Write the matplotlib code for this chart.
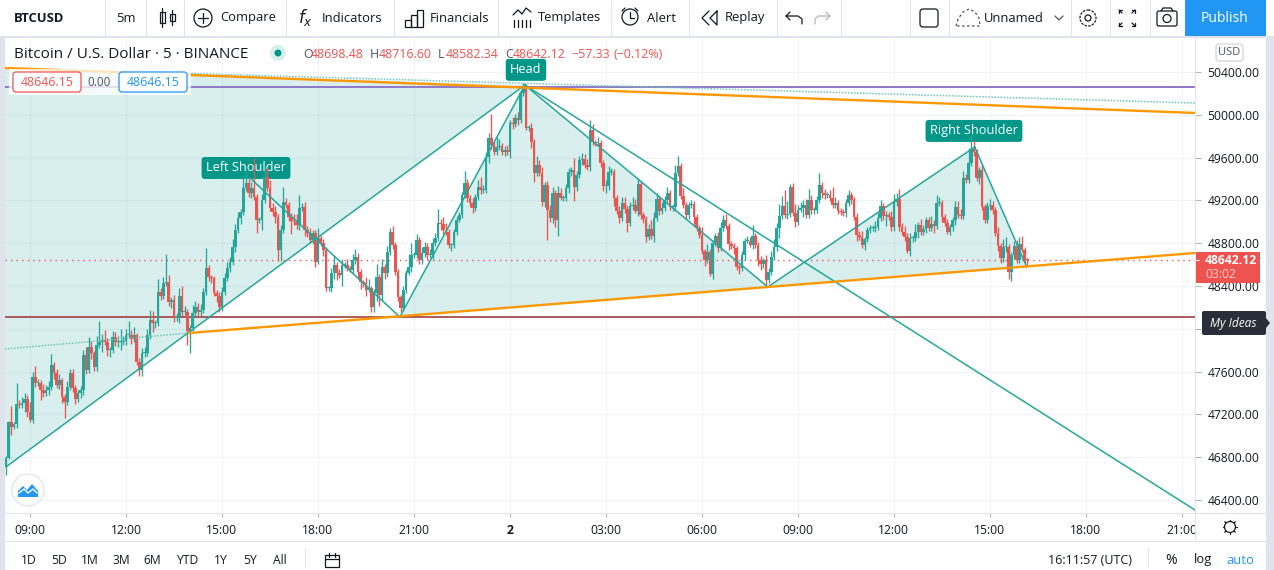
import matplotlib
matplotlib.use("Agg")
import matplotlib.pyplot as plt
from matplotlib.patches import Rectangle, Circle, FancyBboxPatch, Polygon

plt.rcParams["font.family"] = ["Open Sans", "DejaVu Sans"]

# 5 minute closes, one row per hour, first bar 08:15
closes = [
    46793, 47129, 47082, 47110, 47297, 47288, 47306, 47344, 47222, 47148, 47550, 47493,
    47493, 47428, 47400, 47428, 47456, 47662, 47587, 47475, 47521, 47363, 47316, 47456,
    47587, 47447, 47344, 47400, 47428, 47755, 47615, 47830, 47774, 47643, 47849, 47877,
    47895, 47877, 47802, 47802, 47923, 47877, 47877, 47877, 47886, 47942, 47942, 47905,
    47942, 47690, 47615, 47774, 47774, 47942, 48082, 48054, 48054, 48344, 48307, 48428,
    48437, 48251, 48269, 48101, 48120, 48307, 48157, 48157, 47979, 48007, 48148, 48204,
    48157, 48176, 48344, 48568, 48484, 48475, 48334, 48307, 48204, 48344, 48475, 48568,
    48624, 48765, 48923, 49036, 49092, 49316, 49363, 49269, 49316, 49232, 49017, 49017,
    49204, 49419, 49316, 49129, 49092, 49045, 48737, 48923, 49185, 49157, 49045, 49008,
    48998, 48970, 49129, 49138, 48923, 48895, 48830, 48895, 48624, 48849, 48802, 48737,
    48381, 48381, 48522, 48596, 48522, 48503, 48596, 48596, 48568, 48550, 48643, 48671,
    48531, 48437, 48428, 48363, 48381, 48204, 48334, 48484, 48316, 48578, 48522, 48718,
    48905, 48783, 48531, 48297, 48195, 48363, 48522, 48578, 48690, 48690, 48830, 48643,
    48708, 48765, 48690, 48690, 48802, 48849, 48989, 48980, 48923, 48905, 48783, 48783,
    48905, 49017, 49064, 49250, 49363, 49222, 49176, 49129, 49232, 49325, 49297, 49297,
    49606, 49783, 49718, 49652, 49699, 49709, 49652, 49671, 49652, 49923, 49914, 49970,
    49951, 50204, 50260, 49877, 49877, 49746, 49456, 49531, 49456, 49185, 49344, 49110,
    49036, 49269, 49017, 49269, 49222, 49222, 49316, 49465, 49484, 49325, 49437, 49578,
    49587, 49531, 49512, 49858, 49746, 49736, 49736, 49550, 49335, 49335, 49465, 49465,
    49222, 49101, 49036, 49176, 49120, 48989, 49148, 49157, 49101, 49353, 49064, 49026,
    48858, 48933, 48867, 49036, 49213, 49101, 49129, 49204, 49269, 49138, 49138, 49456,
    49522, 49241, 49157, 49064, 49157, 49166, 49045, 48942, 48877, 48727, 48643, 48718,
    48512, 48802, 48867, 48755, 48942, 49017, 48961, 48793, 48774, 48755, 48578, 48568,
    48690, 48821, 48821, 48783, 48867, 48783, 48643, 48606, 48643, 48456, 48531, 48671,
    48765, 48942, 49054, 49148, 49064, 49073, 49325, 49082, 48998, 49110, 49129, 49157,
    49064, 49204, 49110, 49110, 49204, 49344, 49269, 49250, 49250, 49222, 49157, 49176,
    49101, 49092, 49082, 49176, 49250, 49204, 49045, 48877, 48858, 48783, 48839, 48923,
    48942, 48942, 48951, 49036, 49148, 49054, 49064, 49045, 48951, 49185, 49213, 48951,
    48905, 48858, 48727, 48849, 48849, 48905, 48970, 48905, 48933, 49017, 48942, 48980,
    48961, 49176, 49176, 49045, 48989, 48905, 48951, 49017, 49138, 49064, 49054, 49409,
    49391, 49550, 49680, 49652, 49409, 49484, 49138, 49017, 49148, 49157, 49110, 48895,
    48774, 48662, 48765, 48765, 48531, 48690, 48774, 48643, 48793, 48737, 48643, 48642.12,
]
first_open = 46710

# wick lengths above and below the candle body, dollars
upper_wicks = [
    20, 10, 150, 20, 200, 40, 60, 60, 40, 90, 50, 100,
    40, 30, 60, 50, 60, 100, 30, 40, 60, 20, 30, 60,
    40, 40, 30, 30, 40, 50, 70, 90, 60, 20, 80, 200,
    60, 90, 40, 30, 60, 50, 60, 120, 50, 60, 130, 50,
    70, 20, 40, 50, 60, 60, 90, 80, 30, 120, 40, 60,
    260, 70, 30, 50, 30, 70, 90, 60, 30, 30, 70, 60,
    40, 60, 40, 190, 30, 20, 20, 30, 40, 50, 50, 60,
    50, 70, 60, 60, 30, 120, 130, 40, 60, 280, 30, 30,
    60, 100, 80, 70, 50, 60, 30, 50, 140, 40, 30, 40,
    60, 70, 120, 40, 50, 40, 50, 30, 30, 90, 30, 40,
    30, 20, 50, 80, 30, 40, 60, 30, 60, 20, 60, 70,
    40, 30, 20, 60, 80, 20, 40, 120, 30, 70, 30, 60,
    40, 60, 30, 30, 20, 40, 30, 120, 110, 30, 60, 30,
    60, 50, 40, 60, 50, 50, 130, 40, 60, 70, 30, 20,
    30, 40, 30, 30, 110, 40, 30, 50, 30, 70, 90, 50,
    50, 50, 220, 30, 90, 60, 30, 40, 50, 30, 60, 40,
    60, 30, 40, 30, 30, 50, 30, 80, 50, 60, 30, 40,
    50, 60, 30, 70, 50, 30, 40, 40, 30, 110, 40, 40,
    60, 50, 60, 90, 60, 20, 60, 30, 30, 60, 60, 40,
    30, 30, 50, 60, 60, 40, 40, 70, 60, 60, 30, 30,
    30, 50, 80, 60, 60, 30, 60, 40, 60, 30, 30, 70,
    90, 30, 70, 30, 30, 40, 30, 30, 30, 70, 20, 70,
    30, 30, 30, 40, 60, 50, 60, 30, 30, 30, 20, 30,
    40, 30, 50, 40, 100, 30, 30, 40, 20, 50, 40, 60,
    70, 50, 110, 90, 150, 120, 30, 40, 80, 50, 60, 50,
    60, 100, 50, 30, 40, 110, 30, 40, 30, 50, 100, 60,
    30, 30, 30, 40, 50, 30, 30, 40, 40, 60, 20, 30,
    30, 30, 60, 50, 60, 30, 40, 30, 60, 70, 60, 90,
    40, 60, 40, 50, 30, 70, 30, 60, 40, 30, 30, 70,
    40, 70, 60, 30, 30, 40, 30, 30, 60, 60, 60, 70,
    40, 140, 130, 80, 30, 30, 40, 30, 40, 60, 40, 30,
    60, 30, 70, 90, 30, 30, 50, 60, 60, 70, 30, 20,
]
lower_wicks = [
    75, 10, 75, 20, 40, 30, 30, 80, 50, 20, 30, 40,
    30, 90, 40, 30, 50, 30, 60, 30, 40, 60, 150, 30,
    30, 40, 50, 30, 50, 50, 40, 30, 60, 40, 40, 30,
    90, 30, 60, 70, 30, 40, 50, 80, 30, 40, 30, 50,
    30, 30, 60, 60, 40, 30, 40, 80, 50, 30, 40, 30,
    30, 40, 60, 40, 30, 70, 40, 30, 130, 205, 30, 30,
    50, 40, 30, 30, 40, 50, 30, 60, 50, 40, 30, 30,
    40, 30, 50, 30, 60, 30, 30, 40, 50, 30, 120, 30,
    90, 30, 30, 30, 40, 60, 100, 100, 30, 30, 40, 120,
    30, 40, 50, 30, 60, 40, 30, 40, 50, 20, 30, 60,
    30, 30, 40, 60, 70, 30, 100, 30, 30, 20, 30, 40,
    70, 70, 40, 60, 20, 50, 50, 70, 100, 60, 60, 40,
    30, 40, 30, 40, 40, 20, 30, 20, 50, 30, 30, 40,
    40, 40, 50, 30, 40, 30, 30, 60, 40, 30, 30, 60,
    30, 30, 20, 30, 30, 40, 40, 50, 30, 30, 40, 30,
    30, 60, 40, 30, 30, 30, 30, 40, 30, 60, 50, 30,
    50, 30, 30, 20, 30, 60, 80, 30, 30, 40, 50, 280,
    40, 50, 70, 150, 20, 30, 30, 50, 40, 130, 40, 30,
    50, 30, 30, 40, 30, 30, 30, 40, 50, 70, 40, 30,
    70, 30, 50, 30, 40, 80, 30, 40, 20, 50, 40, 40,
    50, 30, 30, 60, 30, 40, 30, 30, 20, 30, 40, 40,
    30, 30, 30, 40, 40, 30, 70, 30, 30, 30, 60, 30,
    20, 50, 30, 40, 30, 30, 30, 60, 30, 60, 30, 60,
    30, 50, 20, 20, 40, 30, 60, 60, 40, 60, 30, 30,
    30, 40, 90, 30, 30, 40, 30, 30, 50, 30, 20, 80,
    30, 30, 40, 40, 30, 30, 50, 40, 30, 30, 30, 30,
    30, 30, 30, 40, 30, 40, 30, 60, 30, 30, 50, 30,
    30, 30, 40, 30, 30, 40, 90, 30, 40, 40, 40, 40,
    30, 40, 20, 50, 40, 30, 60, 30, 30, 40, 30, 30,
    70, 30, 30, 50, 30, 20, 30, 40, 50, 30, 30, 30,
    30, 30, 30, 40, 30, 60, 30, 30, 30, 40, 40, 30,
    50, 50, 40, 50, 70, 80, 40, 30, 30, 20, 30, 60,
]

# head and shoulders drawing, (bar index, price)
pat_start = (0, 46709)
left_peak = (91.5, 49409)
neck_left = (147.7, 48110)
head = (194.6, 50278)
neck_right = (285.7, 48391)
right_peak = (363.3, 49699)
pat_end = (382.8, 48578)
down_end = (445.9, 46306)

# trend lines, (bar index, price)
top_trend = [(-0.4, 50437), (445.9, 50017)]
top_dotted = [(-0.4, 50437), (445.9, 50110)]
neck_trend = [(69, 47961), (445.9, 48708)]
neck_dotted = [(-0.4, 47811), (69, 47961)]
purple_level = 50260
brown_level = 48110
last_price = 48642.12

price_ticks = [46400, 46800, 47200, 47600, 48000, 48400, 48800, 49200, 49600, 50000, 50400]
price_labels = ["46400.00", "46800.00", "47200.00", "47600.00", "", "48400.00", "48800.00",
                "49200.00", "49600.00", "50000.00", "50400.00"]
time_ticks = [9, 45, 81, 117, 153, 189, 225, 261, 297, 333, 369, 405, 441]
time_labels = ["09:00", "12:00", "15:00", "18:00", "21:00", "2", "03:00", "06:00", "09:00",
               "12:00", "15:00", "18:00", "21:00"]
ranges = ["1D", "5D", "1M", "3M", "6M", "YTD", "1Y", "5Y", "All"]
range_x = [29, 59, 90, 121, 152, 187, 221, 250, 280]

UP = "#26a69a"
DOWN = "#ef5350"
TEAL = "#009688"
ORANGE = "#ff9800"
INK = "#131722"
EDGE = "#e0e3eb"
BLUE = "#2196f3"

fig = plt.figure(figsize=(12.74, 5.70), dpi=100, facecolor="white")

# price pane
ax = fig.add_axes([5 / 1274, 57 / 570, 1190 / 1274, 476 / 570], zorder=1)
ax.set_xlim(-0.375, 445.9)
ax.set_ylim(46278, 50727)
ax.grid(True, color="#f0f3fa", lw=0.8, zorder=0)
ax.set_axisbelow(True)
for side in ["top", "left"]:
    ax.spines[side].set_visible(False)
ax.spines["bottom"].set_color(EDGE)
ax.spines["right"].set_color(EDGE)
ax.yaxis.tick_right()
ax.set_yticks(price_ticks)
ax.set_yticklabels(price_labels, fontsize=8.7, color=INK)
ax.tick_params(axis="y", length=4, width=0.8, color="#b2b5be", pad=5)
ax.set_xticks(time_ticks)
ax.set_xticklabels(time_labels, fontsize=8.7, color=INK)
ax.tick_params(axis="x", length=3, width=0.8, color="#b2b5be", pad=5)
ax.get_xticklabels()[5].set_fontweight("bold")

# shaded triangles of the pattern
fill_kw = dict(color=TEAL, alpha=0.15, lw=0, zorder=1)
ax.fill([pat_start[0], head[0], -0.4, -0.4], [pat_start[1], head[1], top_trend[0][1], pat_start[1]], **fill_kw)
ax.fill([neck_left[0], head[0], neck_right[0]], [neck_left[1], head[1], neck_right[1]], **fill_kw)
ax.fill([neck_right[0], right_peak[0], pat_end[0]], [neck_right[1], right_peak[1], pat_end[1]], **fill_kw)

# horizontal levels under the candles
ax.axhline(purple_level, color="#8e78c8", lw=1.4, zorder=2)
ax.axhline(brown_level, color="#a84c4c", lw=1.3, zorder=2)
ax.axhline(last_price, color=DOWN, lw=1.0, ls=(0, (1, 3)), zorder=2)

# pattern labels, the candles run across them
label_box = dict(boxstyle="round,pad=0.35,rounding_size=0.25", fc=TEAL, ec="none")
ax.text(195, 50420, "Head", color="white", fontsize=9.2, ha="center", va="center", bbox=label_box, zorder=2.5)
ax.text(90, 49503, "Left Shoulder", color="white", fontsize=9.2, ha="center", va="center", bbox=label_box, zorder=2.5)
ax.text(363, 49849, "Right Shoulder", color="white", fontsize=9.2, ha="center", va="center", bbox=label_box, zorder=2.5)

# candles
opens = [first_open] + closes[:-1]
for i in range(len(closes)):
    o = opens[i]
    c = closes[i]
    col = UP if c >= o else DOWN
    ax.vlines(i, min(o, c) - lower_wicks[i], max(o, c) + upper_wicks[i], color=col, lw=0.95, zorder=3)
    ax.bar(i, max(abs(c - o), 12), bottom=min(o, c), width=1.0, color=col, lw=0, zorder=3)

# pattern outline
line_kw = dict(color=UP, lw=1.1, zorder=4)
ax.plot([pat_start[0], head[0]], [pat_start[1], head[1]], **line_kw)
ax.plot([left_peak[0], neck_left[0]], [left_peak[1], neck_left[1]], **line_kw)
ax.plot([neck_left[0], head[0]], [neck_left[1], head[1]], **line_kw)
ax.plot([head[0], neck_right[0]], [head[1], neck_right[1]], **line_kw)
ax.plot([neck_right[0], right_peak[0]], [neck_right[1], right_peak[1]], **line_kw)
ax.plot([right_peak[0], pat_end[0]], [right_peak[1], pat_end[1]], **line_kw)
ax.plot([head[0], down_end[0]], [head[1], down_end[1]], **line_kw)

dot_kw = dict(color="#6fc4bb", lw=1.1, ls=(0, (1, 1)), zorder=4)
ax.plot(*zip(*top_dotted), **dot_kw)
ax.plot(*zip(*neck_dotted), **dot_kw)
ax.plot(*zip(*top_trend), color=ORANGE, lw=1.7, zorder=5)
ax.plot(*zip(*neck_trend), color=ORANGE, lw=1.7, zorder=5)

# window chrome, drawn in screen pixels
ui = fig.add_axes([0, 0, 1, 1], zorder=5)
ui.set_xlim(0, 1274)
ui.set_ylim(570, 0)
ui.axis("off")
ui.patch.set_alpha(0)


def rect(x, y, w, h, fc, ec="none", lw=0):
    ui.add_patch(Rectangle((x, y), w, h, fc=fc, ec=ec, lw=lw))


def rbox(x, y, w, h, fc, ec="none", lw=0.9, r=3):
    ui.add_patch(FancyBboxPatch((x, y), w, h, boxstyle="round,pad=0,rounding_size=%g" % r, fc=fc, ec=ec, lw=lw))


def txt(x, y, s, size=9.4, color=INK, ha="left", **kw):
    ui.text(x, y, s, fontsize=size, color=color, ha=ha, va="center", **kw)


def stroke(xs, ys, color=INK, lw=0.9, **kw):
    ui.plot(xs, ys, color=color, lw=lw, solid_capstyle="round", **kw)


# side bands and separators
rect(0, 0, 1274, 36, "white")
rect(0, 36, 1274, 1.6, EDGE)
rect(0, 37, 5, 533, EDGE)
rect(1266, 37, 8, 533, EDGE)
rect(5, 541, 1261, 1.2, EDGE)
rect(1196, 513.5, 70, 27, "white")
rect(1195, 513, 1, 28, EDGE)
rect(1196, 513, 70, 1, EDGE)
for x in [105, 146, 184, 286, 394, 498, 611, 689, 777, 841, 910, 949, 1071, 1110, 1150]:
    rect(x, 0, 1, 36, EDGE)

# top toolbar
rect(1185, 0, 81, 36, BLUE)
txt(14, 18, "BTCUSD", weight="bold")
txt(116, 18, "5m")
txt(220, 18, "Compare")
txt(322, 18, "Indicators")
txt(430, 18, "Financials")
txt(538, 18, "Templates")
txt(647, 18, "Alert")
txt(725, 18, "Replay")
txt(984, 18, "Unnamed")
txt(1225, 18, "Publish", size=10, color="white", ha="center")

# toolbar icons
stroke([162, 162], [8, 27])
stroke([172, 172], [10, 25])
rect(159.5, 12, 5, 11, "white", INK, 0.9)
rect(169.5, 14, 5, 7, "white", INK, 0.9)
ui.add_patch(Circle((203, 18), 9, fc="none", ec=INK, lw=0.9))
stroke([198, 208], [18, 18])
stroke([203, 203], [13, 23])
txt(298, 18, "$f_x$", size=12)
for x, top in [(405, 20), (411, 15), (417, 10)]:
    rect(x, top, 6, 27 - top, "none", INK, 0.9)
stroke([513, 518, 522, 526, 531], [15, 10, 14, 8, 12])
for x in [514, 518, 522, 526, 530]:
    stroke([x, x], [20, 27])
ui.add_patch(Circle((630, 17), 8, fc="none", ec=INK, lw=0.9))
stroke([630, 630, 634], [12, 18, 18])
stroke([622, 625], [11, 8])
stroke([635, 638], [8, 11])
stroke([709, 702, 709], [11, 18, 25])
stroke([717, 710, 717, 717], [11, 18, 25, 11])
stroke([790, 786, 790], [12, 16, 20])
stroke([786, 798, 802, 802], [16, 16, 19, 24])
stroke([826, 830, 826], [12, 16, 20], color="#b2b5be")
stroke([830, 818, 815, 815], [16, 16, 19, 24], color="#b2b5be")
rbox(920, 9, 18, 18, "none", INK, 0.9, 3)
stroke([956, 958, 963, 969, 975, 979, 980, 956], [26, 19, 12, 9, 12, 18, 26, 26], color="#50535e", ls=(0, (2, 2)))
stroke([1055, 1059, 1063], [16, 20, 16], color="#50535e")
ui.add_patch(Circle((1088, 18), 8, fc="none", ec=INK, lw=0.9, ls=(0, (2, 1))))
ui.add_patch(Circle((1088, 18), 3, fc="none", ec=INK, lw=0.9))
for sx, sy in [(-1, -1), (1, -1), (-1, 1), (1, 1)]:
    cx = 1127 + 8 * sx
    cy = 18 + 8 * sy
    stroke([cx - 3 * sx, cx, cx], [cy, cy, cy - 3 * sy])
    stroke([cx, cx - 3 * sx], [cy, cy - 3 * sy])
rbox(1157, 11, 20, 15, "none", INK, 0.9, 2)
ui.add_patch(Circle((1167, 18.5), 4, fc="none", ec=INK, lw=0.9))
stroke([1161, 1163, 1171, 1173], [11, 8, 8, 11])

# legend line
txt(14, 55, "Bitcoin / U.S. Dollar · 5 · BINANCE", size=11, color=INK)
ui.add_patch(Circle((278, 53), 8, fc="#d9efec", ec="none"))
ui.add_patch(Circle((278, 53), 3.5, fc=TEAL, ec="none"))
for x, s, col in [(303, "O", "#50535e"), (311, "48698.48", DOWN), (370, "H", "#50535e"), (379, "48716.60", DOWN),
                  (438, "L", "#50535e"), (446, "48582.34", DOWN), (505, "C", "#50535e"), (513, "48642.12", DOWN),
                  (571, "−57.33", DOWN), (614, "(−0.12%)", DOWN)]:
    txt(x, 55, s, size=8.9, color=col)

# buy / sell boxes
ui.add_patch(Rectangle((9, 69), 182, 26, fc="white", ec="none", alpha=0.75))
rbox(13, 72, 68, 20, "white", DOWN)
txt(47, 82, "48646.15", size=8.9, color=DOWN, ha="center")
txt(99, 82, "0.00", size=8.4, color="#50535e", ha="center")
rbox(119, 72, 68, 20, "white", BLUE)
txt(153, 82, "48646.15", size=8.9, color=BLUE, ha="center")

# price scale extras
rbox(1216, 44, 27, 17, "white", "#d1d4dc")
txt(1229.5, 52.5, "USD", size=8, color="#50535e", ha="center")
rect(1196, 252, 64, 31, DOWN)
rect(1195, 260, 5, 1, "white")
txt(1205, 260, "%.2f" % last_price, size=8.7, color="white", weight="bold")
txt(1205, 275, "03:02", size=8.7, color="#ffd0cc")
rbox(1202, 311, 64, 24, "#2a2e39", r=2)
ui.add_patch(Polygon([(1266, 318), (1270, 323), (1266, 328)], fc="#2a2e39", ec="none"))
txt(1233, 323, "My Ideas", size=8.6, color="white", ha="center", style="italic")

# bottom bar
for x, s in zip(range_x, ranges):
    txt(x, 561, s, size=8.7, ha="center")
rect(305, 548, 1, 20, EDGE)
rect(325, 555, 14, 12, "none", INK, 0.9)
stroke([325, 339], [559, 559])
stroke([329, 329], [553, 557])
stroke([335, 335], [553, 557])
txt(1132, 561, "16:11:57 (UTC)", size=9, ha="right")
rect(1148, 548, 1, 20, EDGE)
txt(1171, 561, "%", size=10, ha="center")
txt(1203, 560, "log", size=9.4, ha="center")
txt(1240, 561, "auto", size=9.4, color=BLUE, ha="center")
ui.add_patch(Circle((1230, 527), 5.5, fc="none", ec=INK, lw=0.9))
for dx, dy in [(-7, 0), (7, 0), (0, -7), (0, 7), (-5, -5), (5, -5), (-5, 5), (5, 5)]:
    stroke([1230 + dx * 0.85, 1230 + dx * 1.05], [527 + dy * 0.85, 527 + dy * 1.05])

# logo button
ui.add_patch(Circle((28, 490), 16, fc="white", ec=EDGE, lw=0.9))
ui.add_patch(Polygon([(18, 497), (18, 491), (23, 486), (27, 490), (32, 484), (38, 491), (38, 497)], fc=BLUE, ec="none"))
stroke([19, 24, 28, 33, 37], [493, 489, 493, 489, 493], color="white", lw=1)

fig.savefig("out.png", dpi=100, facecolor="white")
